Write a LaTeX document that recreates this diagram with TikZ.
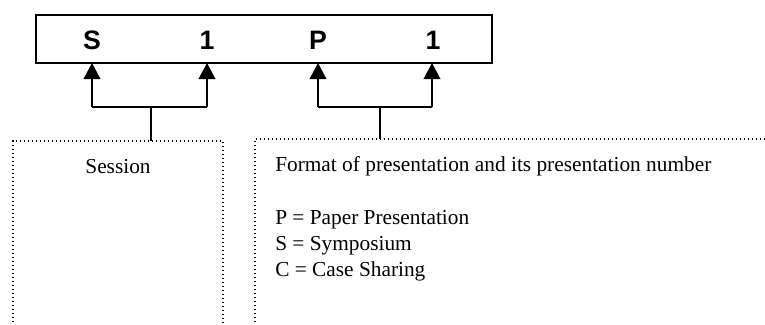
\documentclass[tikz,border=0pt]{standalone}
\usepackage{fontspec}
\setmainfont{Liberation Serif}
\setsansfont{Liberation Sans}
\usetikzlibrary{arrows.meta}
\begin{document}
\begin{tikzpicture}[x=0.75pt,y=-0.75pt,
  codebox/.style={draw,line width=1.5pt},
  letter/.style={anchor=base,font=\sffamily\bfseries\fontsize{20}{23}\selectfont},
  conn/.style={line width=1.1pt},
  arr/.style={conn,-{Triangle[width=12.5pt,length=12pt]}},
  dotbox/.style={line width=1.1pt,dash pattern=on 1.1pt off 1.9pt},
  body/.style={anchor=base west,font=\fontsize{16}{19}\selectfont,inner sep=0pt},
]
\useasboundingbox (0,0) rectangle (765,325);
\draw[codebox] (36,15) rectangle (492,63);
\node[letter] (s1) at (92,49) {S};
\node[letter] (n1) at (207,49) {1};
\node[letter] (p1) at (318,49) {P};
\node[letter] (n2) at (433,49) {1};
% box bottom targets
\coordinate (ts1) at (92,63);
\coordinate (tn1) at (207,63);
\coordinate (tp1) at (318,63);
\coordinate (tn2) at (432,63);
% bracket corners
\coordinate (bs1) at (92,107);
\coordinate (bn1) at (207,107);
\coordinate (bp1) at (318,107);
\coordinate (bn2) at (432,107);
\coordinate (ml) at (151,107);
\coordinate (mr) at (380,107);
\coordinate (tl) at (151,141);
\coordinate (tr) at (380,139);
\draw[arr] (bs1) -- (ts1);
\draw[arr] (bn1) -- (tn1);
\draw[arr] (bp1) -- (tp1);
\draw[arr] (bn2) -- (tn2);
\draw[conn] (bs1) -- (bn1);
\draw[conn] (bp1) -- (bn2);
\draw[conn] (ml) -- (tl);
\draw[conn] (mr) -- (tr);
% dotted boxes
\draw[dotbox] (13,326) -- (13,141) -- (223,141) -- (223,326);
\draw[dotbox] (255,326) -- (255,139) -- (766,139);
\node[anchor=base,font=\fontsize{16}{19}\selectfont,inner sep=0pt] (sess) at (118,173) {Session};
\node[body] (fmt) at (275,171) {Format of presentation and its presentation number};
\node[body] (pp) at (275,224) {P = Paper Presentation};
\node[body] (sy) at (275,250) {S = Symposium};
\node[body] (cs) at (275,276) {C = Case Sharing};
\end{tikzpicture}
\end{document}
